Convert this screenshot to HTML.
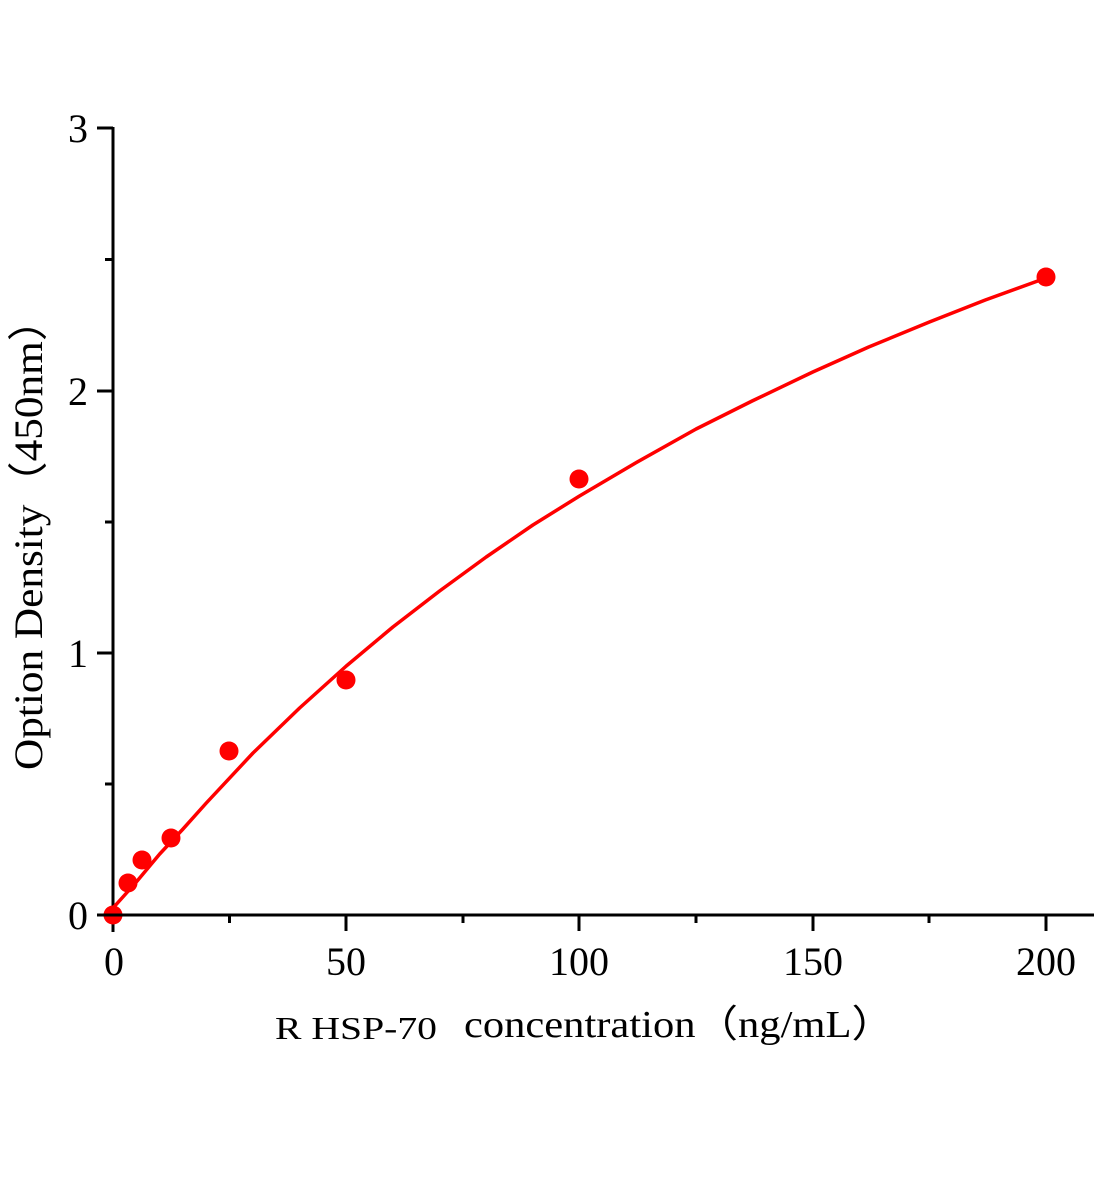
<!DOCTYPE html>
<html><head><meta charset="utf-8"><style>html,body{margin:0;padding:0;background:#fff}svg{display:block}text{font-family:"Liberation Serif","Times New Roman",serif}</style></head>
<body>
<svg width="1104" height="1200" viewBox="0 0 1104 1200" xmlns="http://www.w3.org/2000/svg">
<rect width="1104" height="1200" fill="#fff"/>
<g stroke="#000" stroke-width="3" fill="none">
<line x1="113" y1="127" x2="113" y2="932"/>
<line x1="97" y1="915" x2="1094" y2="915"/>
<line x1="97" y1="128" x2="113" y2="128"/>
<line x1="97" y1="391" x2="113" y2="391"/>
<line x1="97" y1="653" x2="113" y2="653"/>
<line x1="105" y1="259.5" x2="113" y2="259.5"/>
<line x1="105" y1="522" x2="113" y2="522"/>
<line x1="105" y1="784" x2="113" y2="784"/>
<line x1="346" y1="915" x2="346" y2="931"/>
<line x1="579" y1="915" x2="579" y2="931"/>
<line x1="813" y1="915" x2="813" y2="931"/>
<line x1="1046" y1="915" x2="1046" y2="931"/>
<line x1="229.5" y1="915" x2="229.5" y2="923"/>
<line x1="463" y1="915" x2="463" y2="923"/>
<line x1="696" y1="915" x2="696" y2="923"/>
<line x1="929" y1="915" x2="929" y2="923"/>
</g>
<g font-size="40" fill="#000" text-anchor="end">
<text x="88" y="142">3</text>
<text x="88" y="405">2</text>
<text x="88" y="667">1</text>
<text x="88" y="929">0</text>
</g>
<g font-size="40" fill="#000" text-anchor="middle">
<text x="114" y="975">0</text>
<text x="346" y="975">50</text>
<text x="579" y="975">100</text>
<text x="813" y="975">150</text>
<text x="1046" y="975">200</text>
</g>
<text x="275" y="1039" font-size="32" fill="#000" textLength="162" lengthAdjust="spacingAndGlyphs">R HSP-70</text>
<text x="464" y="1037" font-size="38" fill="#000" textLength="430" lengthAdjust="spacingAndGlyphs">concentration（ng/mL）</text>
<text transform="translate(42,534) rotate(-90)" text-anchor="middle" font-size="40" fill="#000" textLength="472" lengthAdjust="spacingAndGlyphs">Option Density（450nm）</text>
<polyline fill="none" stroke="#f00" stroke-width="3.5" stroke-linejoin="round" points="113,908 124.7,895 136.3,882 159.7,854 183,829 206.3,803 253,753 299.6,708 346.3,666 392.9,627 439.6,591 486.2,557 532.9,525 579.5,496 635.5,463 696.1,429 752.1,401 812.8,372 868.7,347 929.4,322 985.3,300 1046,278"/>
<g fill="#f00">
<circle cx="113" cy="915" r="9.5"/>
<circle cx="128" cy="883" r="9.5"/>
<circle cx="142" cy="860" r="9.5"/>
<circle cx="171" cy="838" r="9.5"/>
<circle cx="229" cy="751" r="9.5"/>
<circle cx="346" cy="680" r="9.5"/>
<circle cx="579" cy="479" r="9.5"/>
<circle cx="1046" cy="277" r="9.5"/>
</g>
<line x1="97" y1="915" x2="130" y2="915" stroke="#000" stroke-width="3"/>
</svg>
</body></html>
